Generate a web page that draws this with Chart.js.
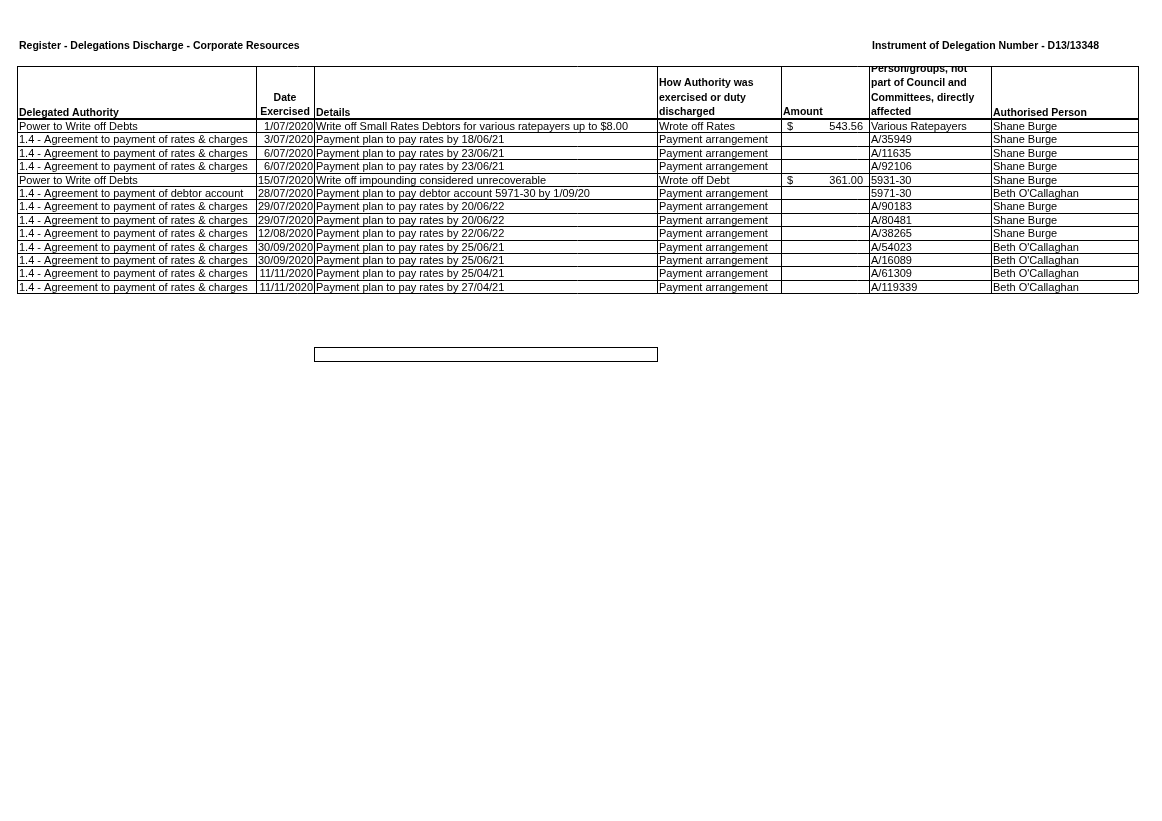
<!DOCTYPE html>
<html><head><meta charset="utf-8">
<script src="https://cdn.jsdelivr.net/npm/chart.js@4/dist/chart.umd.min.js"></script>
<style>html,body{margin:0;padding:0;background:#fff}canvas{display:block}</style>
</head><body>
<canvas id="c" width="1162" height="821"></canvas>
<script>
const titleLeft = "Register - Delegations Discharge - Corporate Resources";
const titleRight = "Instrument of Delegation Number - D13/13348";
const headers = [
  ["Delegated Authority"],
  ["Date","Exercised"],
  ["Details"],
  ["How Authority was","exercised or duty","discharged"],
  ["Amount"],
  ["Person/groups, not","part of Council and","Committees, directly","affected"],
  ["Authorised Person"]
];
const authority = ["Power to Write off Debts","1.4 - Agreement to payment of rates & charges","1.4 - Agreement to payment of rates & charges","1.4 - Agreement to payment of rates & charges","Power to Write off Debts","1.4 - Agreement to payment of debtor account","1.4 - Agreement to payment of rates & charges","1.4 - Agreement to payment of rates & charges","1.4 - Agreement to payment of rates & charges","1.4 - Agreement to payment of rates & charges","1.4 - Agreement to payment of rates & charges","1.4 - Agreement to payment of rates & charges","1.4 - Agreement to payment of rates & charges"];
const dates = ["1/07/2020","3/07/2020","6/07/2020","6/07/2020","15/07/2020","28/07/2020","29/07/2020","29/07/2020","12/08/2020","30/09/2020","30/09/2020","11/11/2020","11/11/2020"];
const details = ["Write off Small Rates Debtors for various ratepayers up to $8.00","Payment plan to pay rates by 18/06/21","Payment plan to pay rates by 23/06/21","Payment plan to pay rates by 23/06/21","Write off impounding considered unrecoverable","Payment plan to pay debtor account 5971-30 by 1/09/20","Payment plan to pay rates by 20/06/22","Payment plan to pay rates by 20/06/22","Payment plan to pay rates by 22/06/22","Payment plan to pay rates by 25/06/21","Payment plan to pay rates by 25/06/21","Payment plan to pay rates by 25/04/21","Payment plan to pay rates by 27/04/21"];
const how = ["Wrote off Rates","Payment arrangement","Payment arrangement","Payment arrangement","Wrote off Debt","Payment arrangement","Payment arrangement","Payment arrangement","Payment arrangement","Payment arrangement","Payment arrangement","Payment arrangement","Payment arrangement"];
const amounts = [543.56,null,null,null,361.00,null,null,null,null,null,null,null,null];
const affected = ["Various Ratepayers","A/35949","A/11635","A/92106","5931-30","5971-30","A/90183","A/80481","A/38265","A/54023","A/16089","A/61309","A/119339"];
const person = ["Shane Burge","Shane Burge","Shane Burge","Shane Burge","Shane Burge","Beth O'Callaghan","Shane Burge","Shane Burge","Shane Burge","Beth O'Callaghan","Beth O'Callaghan","Beth O'Callaghan","Beth O'Callaghan"];

// layout (page units)
const colEdges = [17,256,314,657,781,869,991,1138];
const tableTop = 66, headBottom = 119, rowH = 13.4;

const tablePlugin = {
  id:'table',
  afterDraw(chart){
    const ctx = chart.ctx, X = v=>chart.scales.x.getPixelForValue(v), Y = v=>chart.scales.y.getPixelForValue(v);
    const n = dates.length, bottom = headBottom + n*rowH;
    ctx.save();
    ctx.fillStyle='#000';
    ctx.font='bold 10.5px "Liberation Sans", Arial, sans-serif';
    ctx.textBaseline='alphabetic';
    ctx.textAlign='left'; ctx.fillText(titleLeft, X(19), Y(49));
    ctx.fillText(titleRight, X(872), Y(49));
    // clip header region for text
    ctx.save();
    ctx.beginPath(); ctx.rect(X(17),Y(tableTop),X(1138)-X(17),Y(headBottom)-Y(tableTop)); ctx.clip();
    headers.forEach((lines,c)=>{
      const l=colEdges[c], r=colEdges[c+1];
      lines.forEach((t,k)=>{
        const yy = headBottom - 4 - (lines.length-1-k)*14.3;
        if(c===1){ctx.textAlign='center'; ctx.fillText(t,X((l+r)/2),Y(yy));}
        else {ctx.textAlign='left'; ctx.fillText(t,X(l+2),Y(yy+(c===0||c===2||c===6?1:0)));}
      });
    });
    ctx.restore();
    // body
    ctx.font='11px "Liberation Sans", Arial, sans-serif';
    for(let i=0;i<n;i++){
      const yb = headBottom + (i+1)*rowH - 2.5;
      ctx.textAlign='left';
      ctx.fillText(authority[i],X(colEdges[0]+2),Y(yb));
      ctx.textAlign='right'; ctx.fillText(dates[i],X(colEdges[2]-1),Y(yb));
      ctx.textAlign='left'; ctx.fillText(details[i],X(colEdges[2]+2),Y(yb));
      ctx.fillText(how[i],X(colEdges[3]+2),Y(yb));
      if(amounts[i]!==null){
        ctx.fillText('$',X(colEdges[4]+6),Y(yb));
        ctx.textAlign='right'; ctx.fillText(amounts[i].toFixed(2),X(colEdges[5]-6),Y(yb));
        ctx.textAlign='left';
      }
      ctx.fillText(affected[i],X(colEdges[5]+2),Y(yb));
      ctx.fillText(person[i],X(colEdges[6]+2),Y(yb));
    }
    // grid
    ctx.strokeStyle='#000'; ctx.lineWidth=1;
    const hl=(y,x0,x1)=>{ctx.beginPath();ctx.moveTo(X(x0),Math.round(Y(y))+0.5);ctx.lineTo(X(x1),Math.round(Y(y))+0.5);ctx.stroke();};
    const vl=(x,y0,y1)=>{ctx.beginPath();ctx.moveTo(Math.round(X(x))+0.5,Y(y0));ctx.lineTo(Math.round(X(x))+0.5,Y(y1));ctx.stroke();};
    hl(tableTop,17,1138);
    for(let i=1;i<=n;i++) hl(headBottom+i*rowH,17,1138);
    colEdges.forEach(x=>vl(x,tableTop,bottom));
    ctx.lineWidth=2; ctx.beginPath(); ctx.moveTo(X(17),Y(headBottom)); ctx.lineTo(X(1138),Y(headBottom)); ctx.stroke();
    // empty box
    ctx.lineWidth=1;
    ctx.strokeRect(Math.round(X(314))+0.5,Math.round(Y(347))+0.5,X(657)-X(314),Y(361)-Y(347));
    ctx.restore();
  }
};

new Chart(document.getElementById('c'),{
  type:'scatter',
  data:{datasets:[{data:[],showLine:false}]},
  options:{
    responsive:false, animation:false, devicePixelRatio:1,
    layout:{padding:0},
    plugins:{legend:{display:false},tooltip:{enabled:false}},
    scales:{
      x:{type:'linear',min:0,max:1162,display:false},
      y:{type:'linear',min:0,max:821,reverse:true,display:false}
    }
  },
  plugins:[tablePlugin]
});
</script>
</body></html>
